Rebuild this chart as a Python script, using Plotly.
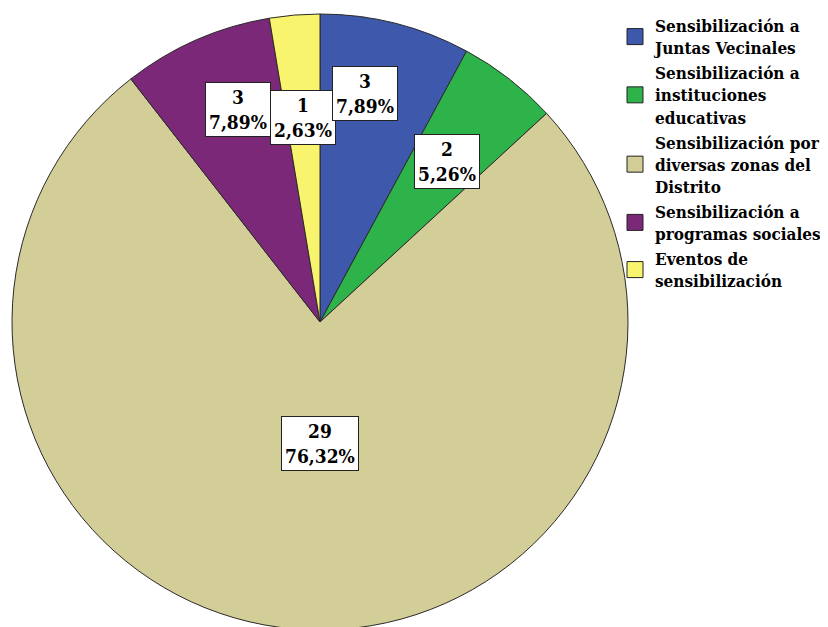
import math
import plotly.graph_objects as go

# ---- data ----
categories = [
    "Sensibilización a<br>Juntas Vecinales",
    "Sensibilización a<br>instituciones<br>educativas",
    "Sensibilización por<br>diversas zonas del<br>Distrito",
    "Sensibilización a<br>programas sociales",
    "Eventos de<br>sensibilización",
]
counts = [3, 2, 29, 3, 1]
percent_labels = ["7,89%", "5,26%", "76,32%", "7,89%", "2,63%"]

# ---- styles ----
colors = ["#3E58AC", "#2EB34B", "#D3CD98", "#7C2878", "#F9F46E"]
W, H = 828, 627
OFF = 8  # page body margin
cx, cy, R = 320.0 - OFF, 322.0 - OFF, 308.0
label_place = [(0.757, -3.2), (0.666, 0.4), (0.393, -4.7), (0.740, 2.6), (0.666, 0.0)]
FONT = "DejaVu Serif Condensed, DejaVu Serif, serif"

fig = go.Figure()
fig.add_trace(go.Pie(
    labels=categories,
    values=counts,
    sort=False,
    direction="clockwise",
    rotation=0,
    textinfo="none",
    marker=dict(colors=colors, line=dict(color="#2a2a2a", width=1)),
    showlegend=False,
    domain=dict(x=[(cx - R) / W, (cx + R) / W], y=[1 - (cy + R) / H, 1 - (cy - R) / H]),
))

for cat, col in zip(categories, colors):
    fig.add_trace(go.Scatter(
        x=[None], y=[None], mode="markers", name=f"<b>{cat}</b>",
        marker=dict(symbol="square", size=16, color=col, line=dict(color="#222222", width=1)),
    ))

total = sum(counts)
cum = 0
annotations = []
for i, (c, p) in enumerate(zip(counts, percent_labels)):
    mid = (cum + c / 2) / total * 360.0
    cum += c
    frac, off = label_place[i]
    th = math.radians(mid + off)
    px = cx + frac * R * math.sin(th)
    py = cy - frac * R * math.cos(th)
    annotations.append(dict(
        x=px / W, y=1 - py / H, xref="paper", yref="paper",
        xanchor="center", yanchor="middle",
        text=f"<b>{c}<br>{p}</b>", showarrow=False,
        font=dict(family=FONT, size=19, color="black"),
        bgcolor="white", bordercolor="#222222", borderwidth=1, borderpad=3,
        align="center",
    ))
order = [2, 1, 3, 4, 0]
annotations = [annotations[k] for k in order]

fig.update_layout(
    width=W, height=H,
    margin=dict(l=0, r=0, t=0, b=0),
    paper_bgcolor="white", plot_bgcolor="white",
    xaxis=dict(visible=False), yaxis=dict(visible=False),
    annotations=annotations,
    legend=dict(
        x=(615 - OFF) / W, y=1 - (8 - OFF) / H, xanchor="left", yanchor="top",
        font=dict(family=FONT, size=17, color="black"),
        itemsizing="trace", tracegroupgap=0, bgcolor="rgba(0,0,0,0)",
    ),
    showlegend=True,
)

fig.write_html("out.html")
